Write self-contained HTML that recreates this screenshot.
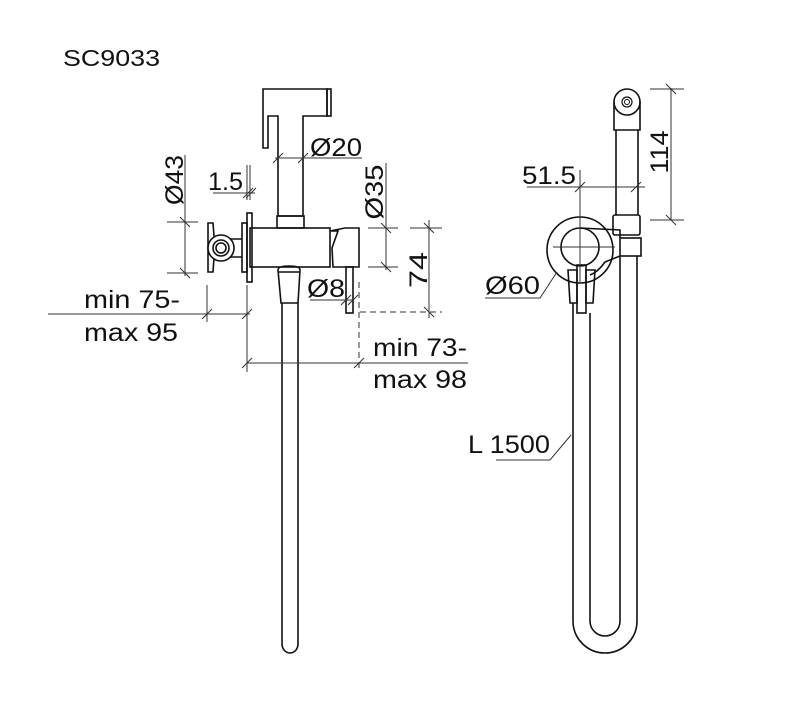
<!DOCTYPE html>
<html><head><meta charset="utf-8"><style>html,body{margin:0;padding:0;background:#fff}svg{display:block}text{font-family:"Liberation Sans",sans-serif;fill:#111}</style></head>
<body>
<svg width="800" height="713" viewBox="0 0 800 713" xmlns="http://www.w3.org/2000/svg">
<text x="63" y="66" font-size="23" textLength="97" lengthAdjust="spacingAndGlyphs">SC9033</text>

<g fill="none" stroke="#111" stroke-width="1.6">
<path d="M263,89 L327,89 L327,116 L303,116 L303,216 L278,216 L278,116 L268,116 L268,148 L263,148 Z"/>
<rect x="327" y="89" width="4" height="27"/>
<rect x="277" y="216" width="27" height="12"/>
<rect x="250" y="228" width="80" height="39"/>
<path d="M330,231 L338,231 L332,248 L333,267 L359,267 L359,228 L345,228 Z"/>
<rect x="247" y="213" width="5" height="69"/>
<rect x="242" y="223" width="5" height="49"/>
<path d="M214,239 L242,239 M214,257 L242,257"/>
<path d="M208,223 L213,223 L214,236 L214,258 L213,272 L208,272 Z"/>
<circle cx="221" cy="248" r="13" fill="#fff"/>
<circle cx="221" cy="248" r="8"/>
<circle cx="221" cy="248" r="5"/>
<rect x="346" y="267" width="7" height="46"/>
<path d="M278,270 Q278,266 289,266 Q300,266 300,270 L298,303 L281,303 Z"/>
<path d="M278,272 L300,272"/>
<path d="M282,303 L282,644 A8,9 0 0 0 298,644 L298,303"/>

<circle cx="627" cy="102" r="13"/>
<circle cx="627" cy="102" r="5" stroke-width="1.2"/>
<circle cx="627" cy="102" r="2.5" stroke-width="1"/>
<path d="M614,102 L614,130 L616,130 L616,215 M640,102 L640,130 L638,130 L638,215 M614,130 L640,130"/>
<rect x="613" y="215" width="27" height="20" rx="2"/>
<circle cx="580" cy="250" r="33"/>
<circle cx="580" cy="247" r="19" fill="#fff"/>
<path d="M580,228 L620,230 L620,238"/>
<rect x="620" y="238" width="21" height="18"/>
<path d="M620,256 L605,262 Q598,272 590,275"/>
<path d="M568,270 L577,270 L577,303 L570,303 Z M586,270 L595,270 L593,303 L586,303 Z"/>
<rect x="577" y="265" width="9" height="48"/>
<path d="M573,303 L573,621 A32,32 0 0 0 637,621 L637,256"/>
<path d="M590,313 L590,621 A15,15 0 0 0 620,621 L620,256"/>
</g>

<g fill="none" stroke="#333" stroke-width="1">
<path d="M185,155 L185,276 M167,222 L198,222 M167,273 L198,273 M180,217 L190,227 M180,268 L190,278"/>
<path d="M247,165 L247,200 M250,165 L250,200 M213,193 L255,193 M243,198 L253,188 M246,198 L256,188"/>
<path d="M275,158 L362,158 M273,163 L283,153 M298,163 L308,153"/>
<path d="M386,163 L386,270 M368,228 L398,228 M368,267 L398,267 M381,223 L391,233 M381,262 L391,272"/>
<path d="M429,220 L429,318 M410,228 L442,228 M424,223 L434,233 M424,307 L434,317"/>
<path d="M360,312 L442,312 M359,282 L359,372" stroke-dasharray="6,4"/>
<path d="M310,300 L353,300 M341,305 L351,295 M348,305 L358,295"/>
<path d="M48,314 L250,314 M207,285 L207,322 M247,285 L247,372 M202,319 L212,309 M242,319 L252,309"/>
<path d="M247,363 L468,363 M242,368 L252,358 M354,368 L364,358"/>
<path d="M527,187 L645,187 M580,170 L580,282 M553,247 L615,247 M575,192 L585,182 M631,192 L641,182"/>
<path d="M671,88 L671,220 M650,89 L684,89 M650,220 L684,220 M666,84 L676,94 M666,215 L676,225"/>
<path d="M485,298 L540,298 L557,272"/>
<path d="M496,460 L550,460 L571,435"/>
</g>

<g font-size="25" lengthAdjust="spacingAndGlyphs">
<text x="310" y="156" textLength="52" lengthAdjust="spacingAndGlyphs">Ø20</text>
<text x="208" y="190" textLength="35" lengthAdjust="spacingAndGlyphs">1.5</text>
<text x="307" y="297" textLength="38" lengthAdjust="spacingAndGlyphs">Ø8</text>
<text x="84" y="308" textLength="96" lengthAdjust="spacingAndGlyphs">min 75-</text>
<text x="84" y="341" textLength="94" lengthAdjust="spacingAndGlyphs">max 95</text>
<text x="373" y="356" textLength="94" lengthAdjust="spacingAndGlyphs">min 73-</text>
<text x="373" y="388" textLength="94" lengthAdjust="spacingAndGlyphs">max 98</text>
<text x="522" y="184" textLength="54" lengthAdjust="spacingAndGlyphs">51.5</text>
<text x="485" y="294" textLength="55" lengthAdjust="spacingAndGlyphs">Ø60</text>
<text x="468" y="453" textLength="82" lengthAdjust="spacingAndGlyphs">L 1500</text>
<text transform="translate(183,180) rotate(-90)" text-anchor="middle" textLength="50" lengthAdjust="spacingAndGlyphs">Ø43</text>
<text transform="translate(383,192) rotate(-90)" text-anchor="middle" textLength="55" lengthAdjust="spacingAndGlyphs">Ø35</text>
<text transform="translate(427,270) rotate(-90)" text-anchor="middle" textLength="36" lengthAdjust="spacingAndGlyphs">74</text>
<text transform="translate(668,152) rotate(-90)" text-anchor="middle" textLength="43" lengthAdjust="spacingAndGlyphs">114</text>
</g>
</svg>
</body></html>
